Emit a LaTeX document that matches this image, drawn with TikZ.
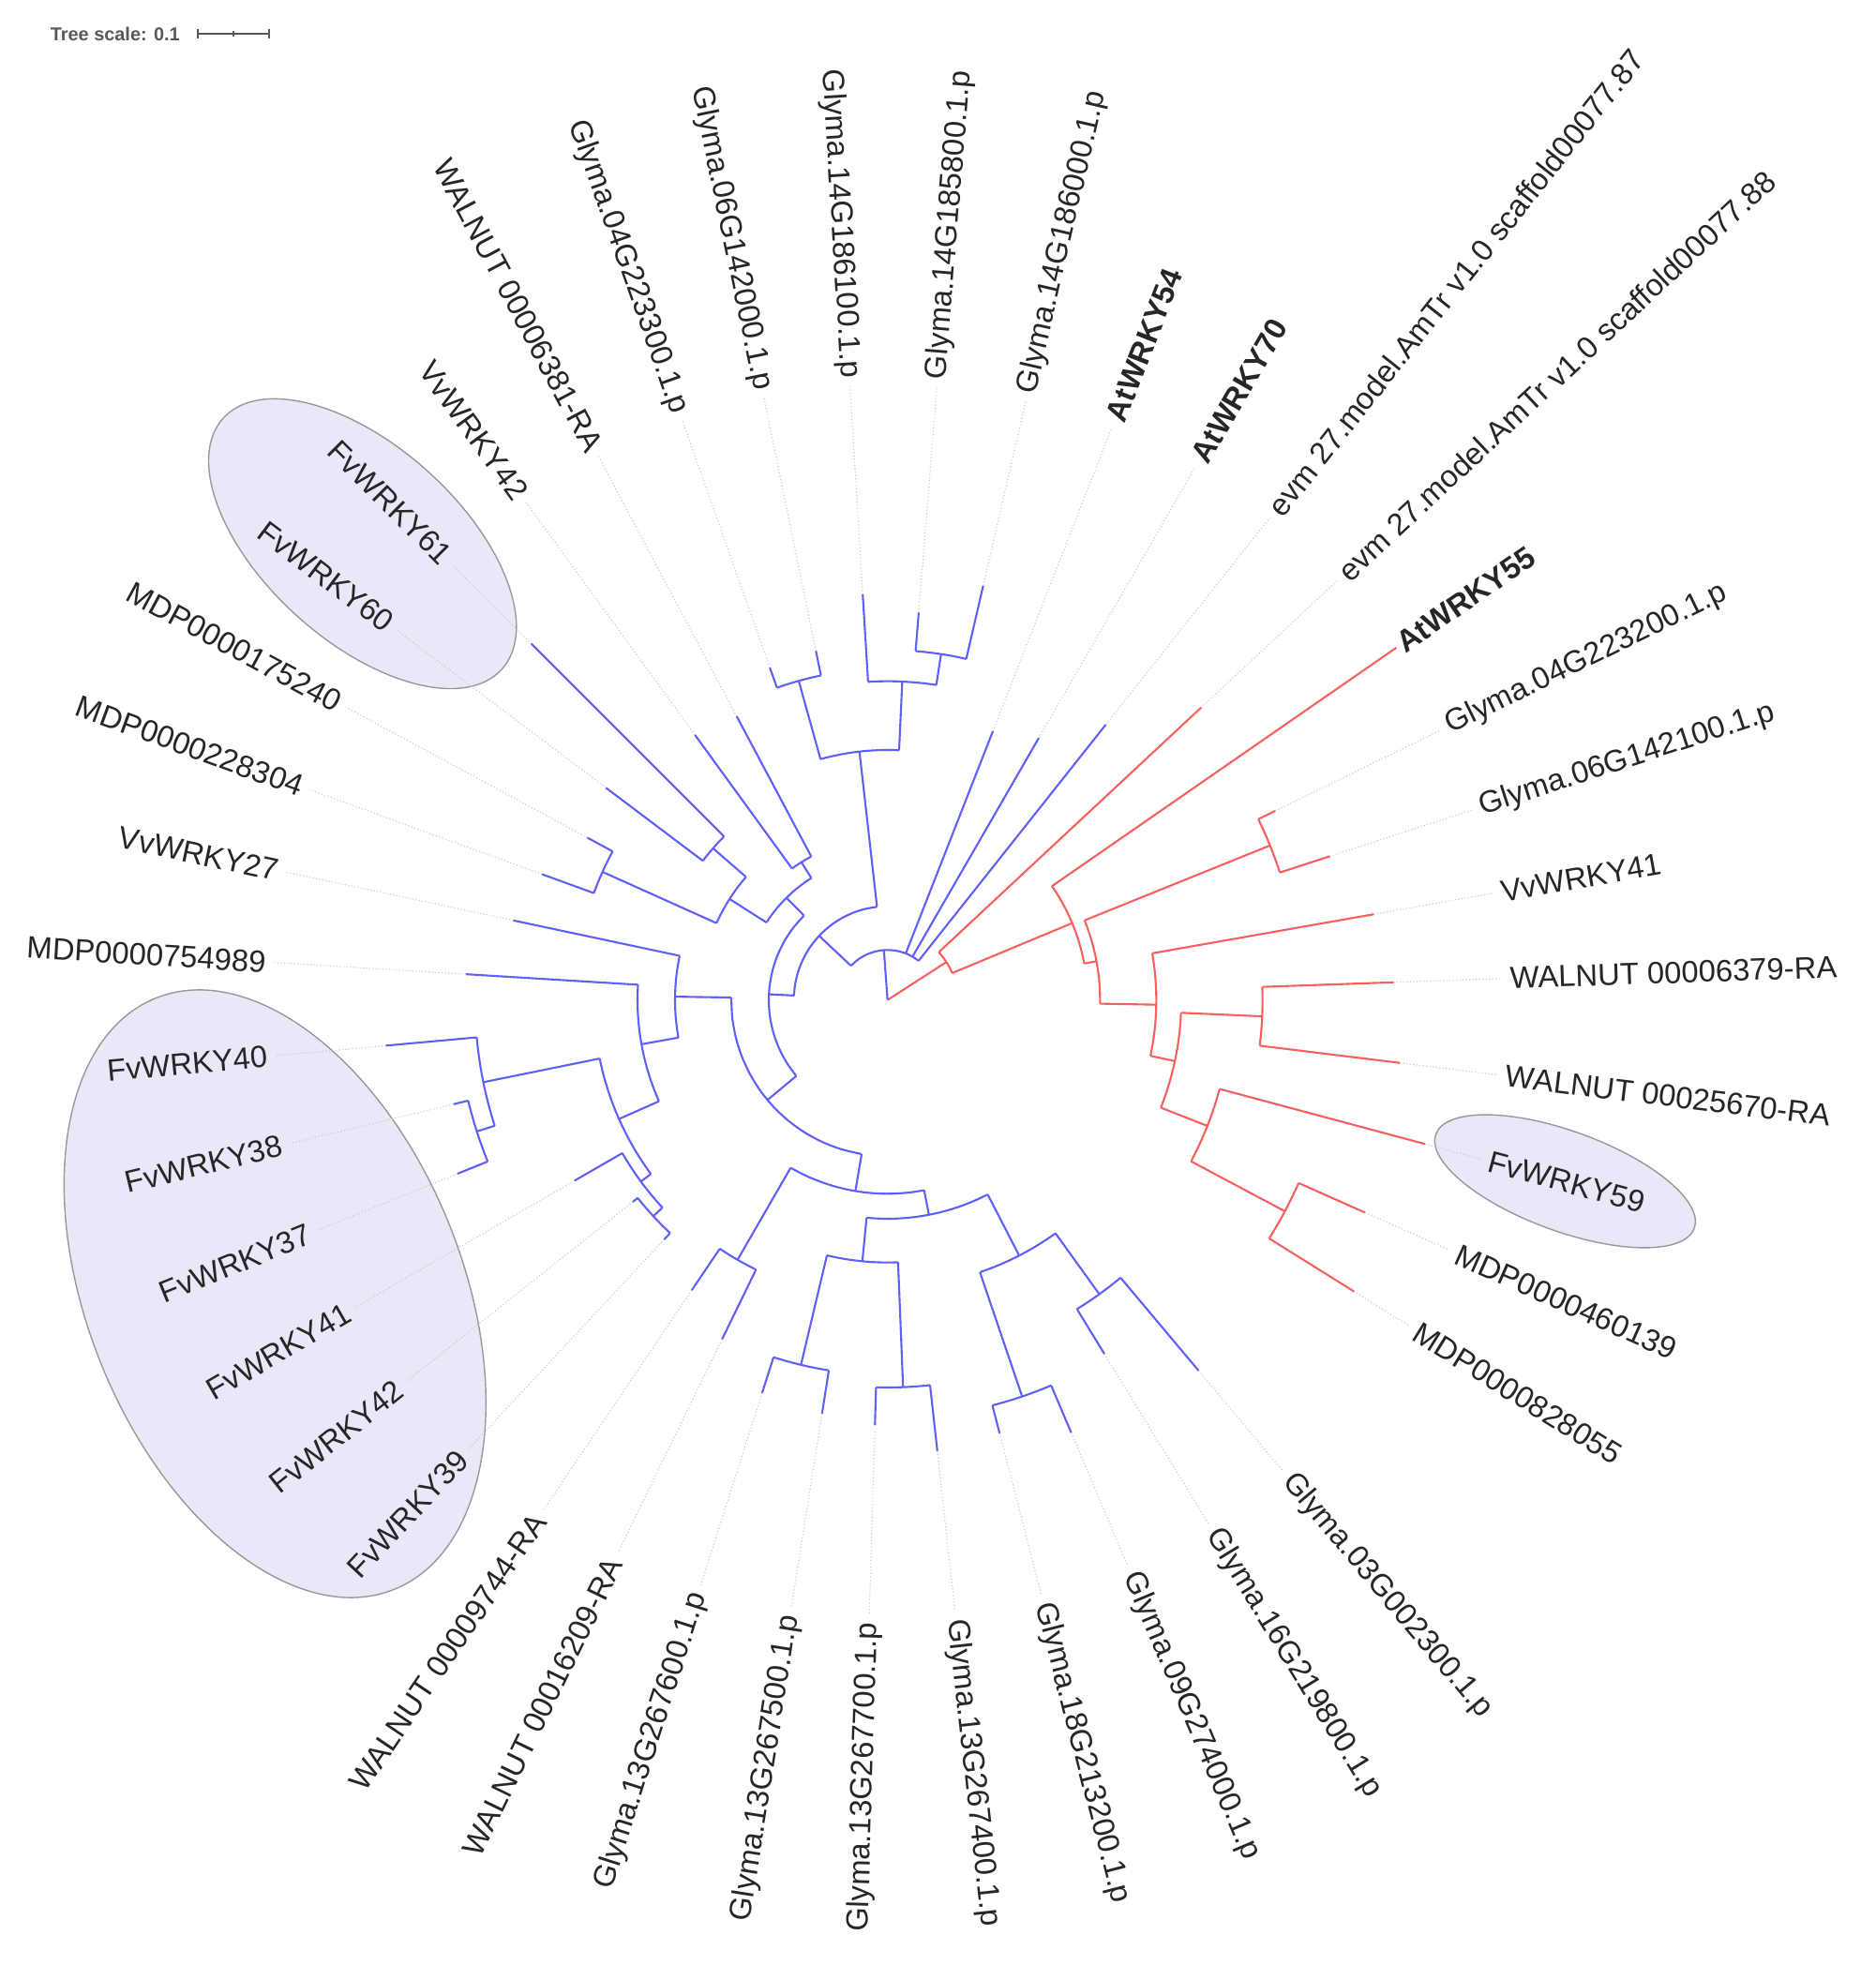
\documentclass[tikz,border=0pt]{standalone}
\usepackage{fontspec}
\setmainfont{Liberation Sans}
\definecolor{cblu}{RGB}{95,95,250}
\definecolor{cred}{RGB}{250,95,95}
\definecolor{lav}{RGB}{232,232,248}
\newcommand\Arc[4]{\draw[#1] plot[domain=#3:#4,samples=12,smooth] (\x:#2);}
\newcommand\Rad[4]{\draw[#1] (#2:#3) -- (#2:#4);}
\newcommand\Leaf[4]{\draw[dotl] (#2:#4) -- (#2:492); \draw[#1] (#2:#3) -- (#2:#4);}
\newcommand\LabR[3]{\node[lab,anchor=west,rotate=#2] (#1) at (#2:498) {#3};}
\newcommand\LabL[3]{\node[lab,anchor=east,rotate=#2+180] (#1) at (#2:498) {#3};}
\begin{document}
\begin{tikzpicture}[x=0.02cm,y=0.02cm,
  lab/.style={font=\fontsize{14}{16}\selectfont,inner sep=0pt,text=black!85},
  dotl/.style={gray!40,densely dotted,line width=0.5pt},
  rd/.style={draw=cred,line width=0.9pt}, bl/.style={draw=cblu,line width=0.9pt},
  ell/.style={fill=lav,draw=gray!80,line width=0.6pt}]
\useasboundingbox (0,0) rectangle (1500,1584);
% ellipses
\draw[ell] (290,1149) ellipse[x radius=150,y radius=78,rotate=-42];
\draw[ell] (220,549) ellipse[x radius=255,y radius=150,rotate=-68];
\draw[ell] (1252,639) ellipse[x radius=110,y radius=40,rotate=-20];
% tree scale
\node[font=\fontsize{8.5}{10}\selectfont\bfseries,text=gray!70!black,anchor=west,inner sep=0pt] (ts) at (40,1557) {Tree scale: 0.1};
\coordinate (s1) at (158,1557); \coordinate (s2) at (215,1557);
\draw[gray!70!black,line width=0.8pt] (s1) -- (s2);
\draw[gray!70!black,line width=0.8pt] (158,1553) -- (158,1561) (215,1553) -- (215,1561) (186.5,1555)--(186.5,1559);
\begin{scope}[shift={(710,784)}]
% ---- red clade
\Rad{rd}{32.8}{0}{56}
\Arc{rd}{56}{22.6}{43}
\Leaf{rd}{43}{56}{343}
\Rad{rd}{22.6}{56}{160}
\Arc{rd}{160}{10.5}{34.7}
\Leaf{rd}{34.7}{160}{495}
\Rad{rd}{10.5}{160}{170}
\Arc{rd}{170}{-1}{22}
\Rad{rd}{22}{170}{330}
\Arc{rd}{330}{18}{26}
\Leaf{rd}{26}{330}{345}
\Leaf{rd}{18}{330}{372}
\Rad{rd}{-1}{170}{215}
\Arc{rd}{215}{-12}{10}
\Leaf{rd}{10}{215}{395}
\Rad{rd}{-12}{215}{235}
\Arc{rd}{235}{-21.5}{-2.5}
\Rad{rd}{-2.5}{235}{300}
\Arc{rd}{300}{-7}{2}
\Leaf{rd}{2}{300}{405}
\Leaf{rd}{-7}{300}{413}
\Rad{rd}{-21.5}{235}{275}
\Arc{rd}{275}{-28}{-15}
\Leaf{rd}{-15}{275}{445}
\Rad{rd}{-28}{275}{360}
\Arc{rd}{360}{-32}{-24}
\Leaf{rd}{-24}{360}{418}
\Leaf{rd}{-32}{360}{440}
% ---- blue clade
\Rad{bl}{94.2}{0}{40}
\Arc{bl}{40}{51.6}{136.85}
\Leaf{bl}{51.6}{40}{281}
\Leaf{bl}{60}{40}{242}
\Leaf{bl}{68.6}{40}{231}
\Rad{bl}{136.85}{40}{75}
\Arc{bl}{75}{96.45}{177.25}
\Rad{bl}{96.45}{75}{200}
\Arc{bl}{200}{87.35}{105.55}
\Rad{bl}{105.55}{200}{265}
\Arc{bl}{265}{101.6}{109.5}
\Leaf{bl}{109.5}{265}{282}
\Leaf{bl}{101.6}{265}{285}
\Rad{bl}{87.35}{200}{255}
\Arc{bl}{255}{81.2}{93.5}
\Leaf{bl}{93.5}{255}{325}
\Rad{bl}{81.2}{255}{280}
\Arc{bl}{280}{77}{85.4}
\Leaf{bl}{85.4}{280}{311}
\Leaf{bl}{77}{280}{340}
\Rad{bl}{177.25}{75}{95}
\Arc{bl}{95}{134.7}{219.8}
\Rad{bl}{134.7}{95}{115}
\Arc{bl}{115}{122}{147.4}
\Rad{bl}{122}{115}{130}
\Arc{bl}{130}{118}{126}
\Leaf{bl}{126}{130}{262}
\Leaf{bl}{118}{130}{257}
\Rad{bl}{147.4}{115}{150}
\Arc{bl}{150}{139}{155.8}
\Rad{bl}{139}{150}{185}
\Arc{bl}{185}{135}{143}
\Leaf{bl}{143}{185}{282}
\Leaf{bl}{135}{185}{403}
\Rad{bl}{155.8}{150}{250}
\Arc{bl}{250}{151.6}{160}
\Leaf{bl}{160}{250}{294}
\Leaf{bl}{151.6}{250}{273}
\Rad{bl}{219.8}{95}{125}
\Arc{bl}{125}{179.1}{260.45}
\Rad{bl}{179.1}{125}{170}
\Arc{bl}{170}{168}{190.2}
\Leaf{bl}{168}{170}{306}
\Rad{bl}{190.2}{170}{200}
\Arc{bl}{200}{176.5}{203.9}
\Leaf{bl}{176.5}{200}{338}
\Rad{bl}{203.9}{200}{235}
\Arc{bl}{235}{191.5}{216.35}
\Rad{bl}{191.5}{235}{330}
\Arc{bl}{330}{185.2}{197.75}
\Leaf{bl}{185.2}{330}{403}
\Rad{bl}{197.75}{330}{345}
\Arc{bl}{345}{193.5}{202}
\Leaf{bl}{193.5}{345}{357}
\Leaf{bl}{202}{345}{371}
\Rad{bl}{216.35}{235}{245}
\Arc{bl}{245}{210}{222.7}
\Leaf{bl}{210}{245}{289}
\Rad{bl}{222.7}{245}{255}
\Arc{bl}{255}{218.4}{227}
\Leaf{bl}{218.4}{255}{260}
\Leaf{bl}{227}{255}{262}
\Rad{bl}{260.45}{125}{155}
\Arc{bl}{155}{240}{280.9}
\Rad{bl}{240}{155}{240}
\Arc{bl}{240}{236}{244}
\Leaf{bl}{244}{240}{302}
\Leaf{bl}{236}{240}{280}
\Rad{bl}{280.9}{155}{175}
\Arc{bl}{175}{264.5}{297.25}
\Rad{bl}{264.5}{175}{210}
\Arc{bl}{210}{256.65}{272.3}
\Rad{bl}{256.65}{210}{300}
\Arc{bl}{300}{252.3}{261}
\Leaf{bl}{252.3}{300}{330}
\Leaf{bl}{261}{300}{335}
\Rad{bl}{272.3}{210}{310}
\Arc{bl}{310}{268.3}{276.3}
\Leaf{bl}{268.3}{310}{340}
\Leaf{bl}{276.3}{310}{363}
\Rad{bl}{297.25}{175}{230}
\Arc{bl}{230}{288.75}{305.75}
\Rad{bl}{288.75}{230}{335}
\Arc{bl}{335}{284.5}{293}
\Leaf{bl}{284.5}{335}{358}
\Leaf{bl}{293}{335}{376}
\Rad{bl}{305.75}{230}{290}
\Arc{bl}{290}{301.5}{310}
\Leaf{bl}{301.5}{290}{332}
\Leaf{bl}{310}{290}{387}
% ---- labels
\LabR{l0}{34.7}{\textbf{AtWRKY55}}
\LabR{l1}{26}{Glyma.04G223200.1.p}
\LabR{l2}{18}{Glyma.06G142100.1.p}
\LabR{l3}{10}{VvWRKY41}
\LabR{l4}{2}{WALNUT 00006379-RA}
\LabR{l5}{-7}{WALNUT 00025670-RA}
\LabR{l6}{-15}{FvWRKY59}
\LabR{l7}{-24}{MDP0000460139}
\LabR{l8}{-32}{MDP0000828055}
\LabR{l9}{-50}{Glyma.03G002300.1.p}
\LabR{l10}{-58.5}{Glyma.16G219800.1.p}
\LabR{l11}{-67}{Glyma.09G274000.1.p}
\LabR{l12}{-75.5}{Glyma.18G213200.1.p}
\LabR{l13}{-83.7}{Glyma.13G267400.1.p}
\LabL{l14}{-91.7}{Glyma.13G267700.1.p}
\LabL{l15}{-99}{Glyma.13G267500.1.p}
\LabL{l16}{-107.7}{Glyma.13G267600.1.p}
\LabL{l17}{-116}{WALNUT 00016209-RA}
\LabL{l18}{-124}{WALNUT 00009744-RA}
\LabL{l19}{-133}{FvWRKY39}
\LabL{l20}{-141.6}{FvWRKY42}
\LabL{l21}{-150}{FvWRKY41}
\LabL{l22}{-158}{FvWRKY37}
\LabL{l23}{-166.5}{FvWRKY38}
\LabL{l24}{-174.8}{FvWRKY40}
\LabL{l25}{176.5}{MDP0000754989}
\LabL{l26}{168}{VvWRKY27}
\LabL{l27}{160}{MDP0000228304}
\LabL{l28}{151.6}{MDP0000175240}
\LabL{l29}{143}{FvWRKY60}
\LabL{l30}{135}{FvWRKY61}
\LabL{l31}{126}{VvWRKY42}
\LabL{l32}{118}{WALNUT 00006381-RA}
\LabL{l33}{109.5}{Glyma.04G223300.1.p}
\LabL{l34}{101.6}{Glyma.06G142000.1.p}
\LabL{l35}{93.5}{Glyma.14G186100.1.p}
\LabR{l36}{85.4}{Glyma.14G185800.1.p}
\LabR{l37}{77}{Glyma.14G186000.1.p}
\LabR{l38}{68.6}{\textbf{AtWRKY54}}
\LabR{l39}{60}{\textbf{AtWRKY70}}
\LabR{l40}{51.6}{evm 27.model.AmTr v1.0 scaffold00077.87}
\LabR{l41}{43}{evm 27.model.AmTr v1.0 scaffold00077.88}
\end{scope}
\end{tikzpicture}
\end{document}
